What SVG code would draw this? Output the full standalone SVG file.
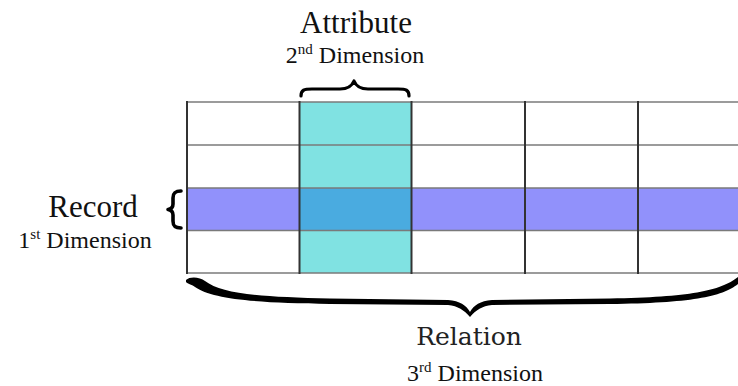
<svg xmlns="http://www.w3.org/2000/svg" width="738" height="386" viewBox="0 0 738 386">
<style>
.t{font-family:"Liberation Serif","Times New Roman",serif;fill:#111}
.d{font-family:"DejaVu Serif",serif;fill:#222}
.h{stroke:#7a7a7a;stroke-width:1.6}
.v{stroke:#333;stroke-width:2}
.br{fill:none;stroke:#000;stroke-linecap:round;stroke-linejoin:round}
</style>
<rect width="738" height="386" fill="#fff"/>
<g id="table">
<rect x="300" y="102" width="111" height="171" fill="#80e2e2"/>
<rect x="187" y="188" width="551" height="42" fill="#9191fb"/>
<rect x="300" y="188" width="111" height="42" fill="#4aabe0"/>
<line class="h" x1="187" y1="102" x2="738" y2="102"/>
<line class="h" x1="187" y1="145" x2="738" y2="145"/>
<line class="h" x1="187" y1="188" x2="738" y2="188"/>
<line class="h" x1="187" y1="230.5" x2="738" y2="230.5"/>
<line class="h" x1="187" y1="273" x2="738" y2="273"/>
<line class="v" x1="187" y1="101" x2="187" y2="274"/>
<line class="v" x1="299.5" y1="101" x2="299.5" y2="274" stroke="#1f3f3f"/>
<line class="v" x1="411.5" y1="101" x2="411.5" y2="274" stroke="#1f3f3f"/>
<line class="v" x1="525" y1="101" x2="525" y2="274"/>
<line class="v" x1="638" y1="101" x2="638" y2="274"/>
</g>
<g id="attribute">
<path class="br" stroke-width="3.2" d="M301,96 C301,90 304,89 312,89 L340,89 C348,89 352,86 354,81 C356,86 360,89 368,89 L398,89 C406,89 409,90 409,96"/>
<text class="t" x="356" y="33" font-size="31" text-anchor="middle">Attribute</text>
<text class="t" x="355" y="63" font-size="24" text-anchor="middle">2<tspan font-size="15" dy="-9">nd</tspan><tspan dy="9"> Dimension</tspan></text>
</g>
<g id="record">
<path class="br" stroke-width="3.6" d="M181,191 C175,191 173,193 173,198 L173,204 C173,207 171,209 168,209.5 C171,210 173,212 173,215 L173,221 C173,226 175,228 181,228"/>
<text class="t" x="93" y="217" font-size="31" text-anchor="middle">Record</text>
<text class="t" x="85" y="248" font-size="24" text-anchor="middle">1<tspan font-size="15" dy="-9">st</tspan><tspan dy="9"> Dimension</tspan></text>
</g>
<g id="relation">
<path d="M186,280 C190,276 200,277 205,281 C222,294 260,297 330,298.5 L448,300 C460,301 466,305 470,312 C474,305 480,301 492,300 L610,298.5 C690,297 720,291 738,277 L738,284 C722,297 690,303 610,304 L492,305 C482,306 476,310 470,317 C464,310 458,306 448,305 L330,304 C255,303 212,299 195,287 C191,284 188,284 186,282 Z" fill="#000"/>
<text class="d" x="469" y="345" font-size="25" text-anchor="middle">Relation</text>
<text class="t" x="475" y="381" font-size="24" text-anchor="middle">3<tspan font-size="15" dy="-9">rd</tspan><tspan dy="9"> Dimension</tspan></text>
</g>
</svg>
